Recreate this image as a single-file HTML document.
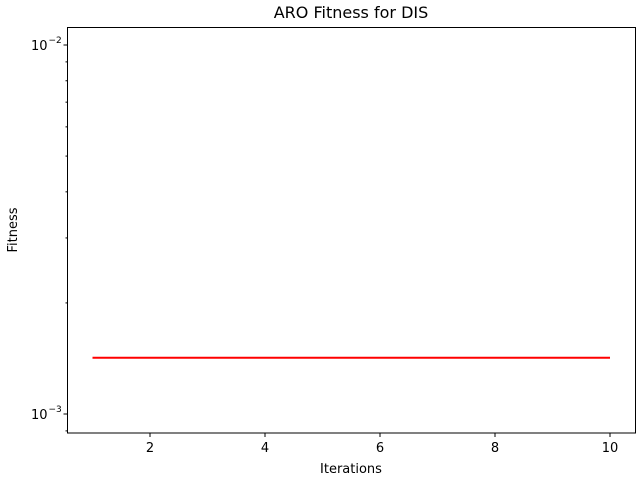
<!DOCTYPE html>
<html><head><meta charset="utf-8"><style>
body{margin:0;background:#fff;font-family:"Liberation Sans","DejaVu Sans",sans-serif;}
svg text{font-family:"DejaVu Sans","Liberation Sans",sans-serif;}
</style></head><body>
<svg id="chart" width="640" height="480" xmlns="http://www.w3.org/2000/svg">
<rect width="640" height="480" fill="#fff"/>
<text x="351" y="18" font-size="16" text-anchor="middle">ARO Fitness for DIS</text>
<text x="351" y="473" font-size="13" text-anchor="middle">Iterations</text>
<text transform="translate(17,230) rotate(-90)" font-size="13" text-anchor="middle">Fitness</text>
<g id="ticks"></g>
<g id="series"></g>
<rect x="67.5" y="27.5" width="568" height="405.5" fill="none" stroke="#000" stroke-width="1"/>
</svg>
<script>
const iterations=[1,2,3,4,5,6,7,8,9,10];
const fitness=[0.00142,0.00142,0.00142,0.00142,0.00142,0.00142,0.00142,0.00142,0.00142,0.00142];
const xTicks=[2,4,6,8,10];
const yMajor=[-3,-2];
const yMinor=[0.0009,0.002,0.003,0.004,0.005,0.006,0.007,0.008,0.009];
const NS="http://www.w3.org/2000/svg";
const X0=67.5,X1=635.5,Y0=27.5,Y1=433;
const xMin=0.557,xMax=10.45;
const yTop=45,yBot=414;
function xs(v){return 150+(v-2)*(610-150)/8;}
function ys(v){return yBot-(Math.log10(v)+3)*(yBot-yTop);}
function mk(t,a,p){const e=document.createElementNS(NS,t);for(const k in a)e.setAttribute(k,a[k]);p.appendChild(e);return e;}
const tg=document.getElementById('ticks');
xTicks.forEach(v=>{const x=xs(v);
 const l=mk('line',{x1:x,x2:x,y1:Y1,y2:Y1+4,stroke:'#000'},tg);
 
 
 const t=mk('text',{x:x,y:Y1+19,'font-size':13,'text-anchor':'middle'},tg);t.textContent=v;
 
 
});
yMajor.forEach(p=>{const y=ys(Math.pow(10,p));
 const l=mk('line',{x1:X0-4,x2:X0,y1:y,y2:y,stroke:'#000'},tg);
 
 
 const t=mk('text',{x:X0-20,y:y+5,'font-size':13,'text-anchor':'end'},tg);t.textContent='10';
 
 
 const s=mk('text',{x:X0-19,y:y-2,'font-size':9,'text-anchor':'start'},tg);s.textContent='\u2212'+Math.abs(p);
 
 
});
yMinor.forEach(v=>{const y=ys(v);
 const l=mk('line',{x1:X0-2,x2:X0,y1:y,y2:y,stroke:'#000'},tg);
 
 
});
const sg=document.getElementById('series');
const pts=iterations.map((v,i)=>xs(v)+','+ys(fitness[i])).join(' ');
const pl=mk('polyline',{points:pts,fill:'none',stroke:'#ff0000','stroke-width':2},sg);


</script>
</body></html>
